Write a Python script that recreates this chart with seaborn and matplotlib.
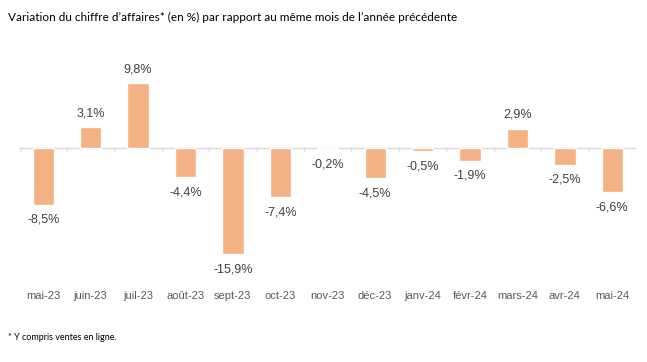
import numpy as np
import pandas as pd
import matplotlib
matplotlib.use('agg')
import matplotlib.pyplot as plt
import seaborn as sns

mois = ['mai-23', 'juin-23', 'juil-23', 'août-23', 'sept-23', 'oct-23', 'nov-23',
        'déc-23', 'janv-24', 'févr-24', 'mars-24', 'avr-24', 'mai-24']
variation = [-8.5, 3.1, 9.8, -4.4, -15.9, -7.4, -0.2, -4.5, -0.5, -1.9, 2.9, -2.5, -6.6]
etiquettes = ['-8,5%', '3,1%', '9,8%', '-4,4%', '-15,9%', '-7,4%', '-0,2%',
              '-4,5%', '-0,5%', '-1,9%', '2,9%', '-2,5%', '-6,6%']

df = pd.DataFrame({'mois': mois, 'variation': variation})

sns.set_style('white')
plt.rcParams['font.family'] = ['Liberation Sans', 'DejaVu Sans']

fig = plt.figure(figsize=(6.47, 3.62), dpi=100)
ax = fig.add_axes([19.5 / 647, 0.2127, (636 - 19.5) / 647, 0.663])

sns.barplot(data=df, x='mois', y='variation', color='#F4B183', saturation=1,
            width=0.45, ax=ax)

ax.set_ylim(-20.6, 15.5)
ax.set_xlim(-0.5, len(mois) - 0.5)

# ligne zero + petits traits entre les mois
ax.axhline(0, color='#d9d9d9', lw=1, zorder=0)
ax.vlines(np.arange(-0.5, len(mois)), -0.45, 0, color='#d9d9d9', lw=1, zorder=0)

for i, (v, lab) in enumerate(zip(variation, etiquettes)):
    off = 10 if v >= 0 else -11
    ax.annotate(lab, (i, v), xytext=(0, off), textcoords='offset points',
                ha='center', va='center', fontsize=9, color='#404040')

ax.set_xlabel('')
ax.set_ylabel('')
ax.set_yticks([])
ax.tick_params(axis='x', length=0, pad=4, labelsize=8, labelcolor='#595959')
sns.despine(ax=ax, left=True, bottom=True)

fig.text(8 / 647, 1 - 17 / 362,
         "Variation du chiffre d\u2019affaires* (en %) par rapport au même mois de l\u2019année précédente",
         fontsize=8.5, family=['Lato', 'DejaVu Sans'], color='#000000', va='center')
fig.text(8 / 647, 1 - 338 / 362, "* Y compris ventes en ligne.",
         fontsize=6.5, family=['Lato', 'DejaVu Sans'], color='#000000', va='center')

plt.savefig('out.png', dpi=100)
plt.close()
